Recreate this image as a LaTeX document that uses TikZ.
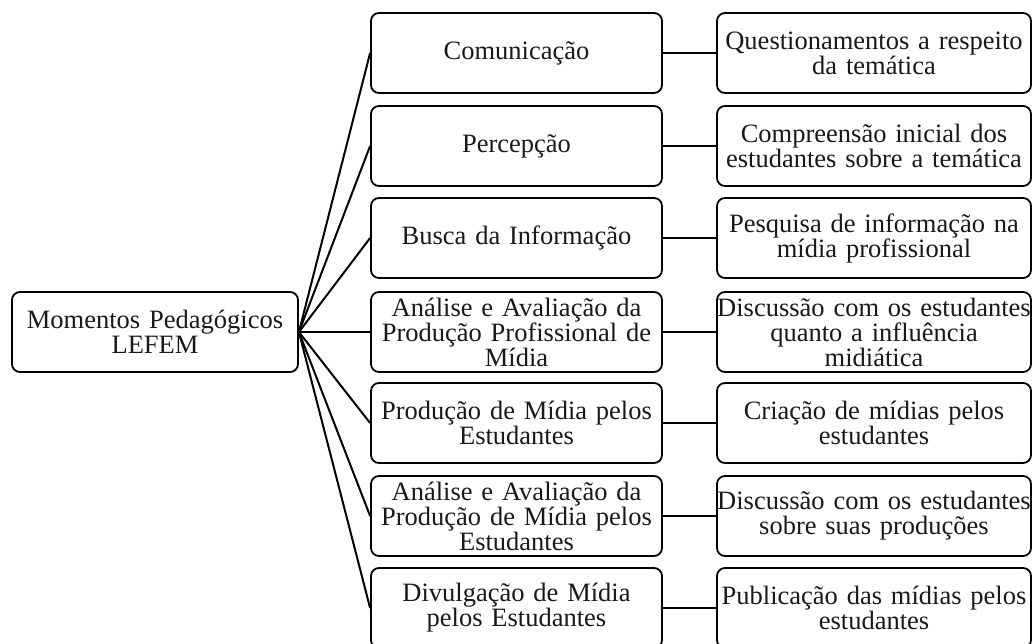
\documentclass[tikz,border=0pt]{standalone}
\usepackage{fontspec}
\setmainfont{Liberation Serif}
\begin{document}
\begin{tikzpicture}[x=1pt,y=-1pt,
  box/.style={draw=black, line width=1.8pt, rounded corners=8pt, inner ysep=0pt, inner xsep=-6pt,
    minimum height=80pt, align=center, font=\fontsize{26.5}{25}\selectfont, text=black!90},
  rootbox/.style={box, minimum width=286pt, text width=298pt},
  midbox/.style={box, minimum width=291pt, text width=303pt},
  rightbox/.style={box, minimum width=314pt, text width=326pt},
  link/.style={draw=black, line width=2pt}]
\useasboundingbox (0,0) rectangle (1032,643);
\clip (0,0) rectangle (1032,643);
\fill[white] (0,0) rectangle (1032,643);

\node[rootbox] (root) at (155,332) {Momentos Pedagógicos\\LEFEM};

\node[midbox] (m1) at (516.5,53) {Comunicação};
\node[midbox] (m2) at (516.5,146) {Percepção};
\node[midbox] (m3) at (516.5,238) {Busca da Informação};
\node[midbox] (m4) at (516.5,332) {Análise e Avaliação da\\Produção Profissional de\\Mídia};
\node[midbox] (m5) at (516.5,423) {Produção de Mídia pelos\\Estudantes};
\node[midbox] (m6) at (516.5,516) {Análise e Avaliação da\\Produção de Mídia pelos\\Estudantes};
\node[midbox] (m7) at (516.5,608) {Divulgação de Mídia\\pelos Estudantes};

\node[rightbox] (r1) at (874,53) {Questionamentos a respeito\\da temática};
\node[rightbox] (r2) at (874,146) {Compreensão inicial dos\\estudantes sobre a temática};
\node[rightbox] (r3) at (874,238) {Pesquisa de informação na\\mídia profissional};
\node[rightbox] (r4) at (874,332) {Discussão com os estudantes\\quanto a influência\\midiática};
\node[rightbox] (r5) at (874,423) {Criação de mídias pelos\\estudantes};
\node[rightbox] (r6) at (874,516) {Discussão com os estudantes\\sobre suas produções};
\node[rightbox] (r7) at (874,608) {Publicação das mídias pelos\\estudantes};

\foreach \i in {1,...,7}{
  \draw[link] (root.east) -- (m\i.west);
  \draw[link] (m\i.east) -- (r\i.west);
}
\end{tikzpicture}
\end{document}
